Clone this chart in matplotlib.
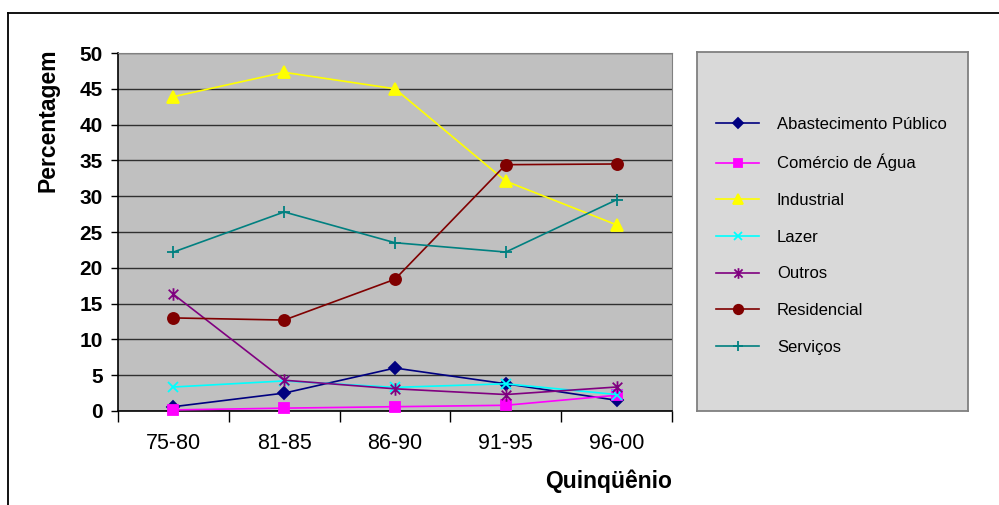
import matplotlib.pyplot as plt
import numpy as np
from matplotlib.lines import Line2D
from matplotlib.path import Path

plt.rcParams['font.family'] = ['Liberation Sans', 'DejaVu Sans']

periodos = ["75-80", "81-85", "86-90", "91-95", "96-00"]

abastecimento = [0.6, 2.5, 6.0, 3.8, 1.5]
comercio = [0.15, 0.4, 0.6, 0.8, 2.2]
industrial = [43.9, 47.3, 45.0, 32.1, 26.0]
lazer = [3.35, 4.2, 3.3, 3.8, 2.3]
outros = [16.3, 4.3, 3.1, 2.3, 3.35]
residencial = [13.0, 12.7, 18.4, 34.4, 34.5]
servicos = [22.2, 27.8, 23.5, 22.2, 29.5]

nomes = ["Abastecimento Público", "Comércio de Água", "Industrial", "Lazer",
         "Outros", "Residencial", "Serviços"]

# asterisco estilo Excel: um x com traço vertical
asterisco = Path([(-1, -1), (1, 1), (-1, 1), (1, -1), (0, -1.3), (0, 1.3)],
                 [Path.MOVETO, Path.LINETO, Path.MOVETO, Path.LINETO, Path.MOVETO, Path.LINETO])

estilos = [
    ("#000080", "D", 6.5),
    ("#FF00FF", "s", 7),
    ("#FFFF00", "^", 9),
    ("#00FFFF", "x", 7),
    ("#800080", asterisco, 9),
    ("#800000", "o", 8),
    ("#008080", "+", 9),
]
series = [abastecimento, comercio, industrial, lazer, outros, residencial, servicos]

fig = plt.figure(figsize=(9.99, 5.05), dpi=100)

# moldura externa da área do gráfico
fig.add_artist(Line2D([7.5 / 999, 7.5 / 999], [0, 1 - 12.5 / 505], color="black", lw=1.3,
                      transform=fig.transFigure))
fig.add_artist(Line2D([7.5 / 999, 1], [1 - 12.5 / 505, 1 - 12.5 / 505], color="black", lw=1.3,
                      transform=fig.transFigure))

ax = fig.add_axes([118 / 999, 94 / 505, 554 / 999, 358 / 505])
ax.set_facecolor("#C0C0C0")

x = np.arange(len(periodos))
handles = []
for vals, (cor, mk, ms), nome in zip(series, estilos, nomes):
    h, = ax.plot(x, vals, color=cor, marker=mk, markersize=ms, lw=1.2,
                 markeredgecolor=cor, markerfacecolor=cor, markeredgewidth=1.3,
                 label=nome, clip_on=False, zorder=3)
    handles.append(h)

ax.set_xlim(-0.5, len(periodos) - 0.5)
ax.set_ylim(0, 50)
ax.set_yticks(np.arange(0, 51, 5))
ax.yaxis.grid(True, color="#303030", lw=1.0)
ax.set_axisbelow(True)
ax.tick_params(axis="y", direction="out", length=5, width=1, pad=6, labelsize=15)
for lbl in ax.get_yticklabels():
    lbl.set_fontweight("bold")

ax.set_xticks(np.arange(-0.5, len(periodos), 1.0))
ax.set_xticklabels([])
ax.set_xticks(x, minor=True)
ax.set_xticklabels(periodos, minor=True, fontsize=15.5)
ax.tick_params(axis="x", which="major", direction="out", length=8, width=1)
ax.tick_params(axis="x", which="minor", length=0, pad=16)

for lado in ["top", "right"]:
    ax.spines[lado].set_color("#808080")
for lado in ["left", "bottom"]:
    ax.spines[lado].set_color("black")
    ax.spines[lado].set_linewidth(1.2)

fig.text(48 / 999, 1 - 120 / 505, "Percentagem", rotation=90, ha="center", va="center",
         fontsize=16.5, fontweight="bold")
fig.text(672 / 999, 1 - 481 / 505, "Quinqüênio", ha="right", va="center",
         fontsize=16.5, fontweight="bold")

# caixa da legenda
lax = fig.add_axes([697 / 999, 94 / 505, 271 / 999, 359 / 505])
lax.set_facecolor("#D9D9D9")
lax.set_xticks([])
lax.set_yticks([])
for sp in lax.spines.values():
    sp.set_color("#808080")
    sp.set_linewidth(1.3)
lax.legend(handles, nomes, loc="center left", bbox_to_anchor=(0.07, 0.4875),
           frameon=False, borderaxespad=0, borderpad=0, fontsize=12,
           handlelength=2.6, handletextpad=1.05, labelspacing=1.3, markerscale=0.85)

fig.savefig("out.png", dpi=100)
